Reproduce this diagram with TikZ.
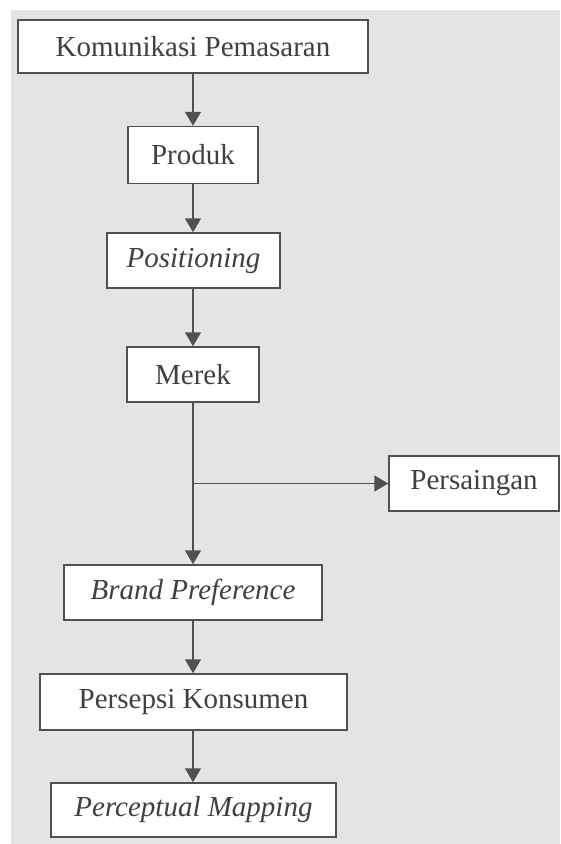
\documentclass[tikz,border=0pt]{standalone}
\usepackage{fontspec}
\setmainfont{Liberation Serif}
\usetikzlibrary{arrows.meta}
\definecolor{bggray}{HTML}{E4E4E4}
\definecolor{linegray}{HTML}{505050}
\definecolor{textgray}{HTML}{404040}
\tikzset{
  box/.style={draw=linegray, line width=1.5pt, fill=white, inner sep=0pt,
    text=textgray, font=\fontsize{29}{34}\selectfont},
  flow/.style={draw=linegray, line width=1.5pt, -{Triangle[width=16pt,length=14pt]}}
}
\begin{document}
\begin{tikzpicture}[x=1pt,y=-1pt]
\useasboundingbox (0,0) rectangle (560,844);
\fill[white] (0,0) rectangle (560,844);
\fill[bggray] (11,10) rectangle (560,844);
\node[box, minimum width=350pt, minimum height=53pt] (kom) at (193,46.5) {Komunikasi Pemasaran};
\node[box, minimum width=130pt, minimum height=57pt] (prod) at (193,155) {Produk};
\node[box, minimum width=173pt, minimum height=55pt] (pos) at (193.5,260.5) {\itshape Positioning};
\node[box, minimum width=132pt, minimum height=55pt] (merek) at (193,374.5) {Merek};
\node[box, minimum width=170pt, minimum height=55pt] (pers) at (474,483.5) {Persaingan};
\node[box, minimum width=258pt, minimum height=55pt] (brand) at (193,592.5) {\itshape Brand Preference};
\node[box, minimum width=307pt, minimum height=56pt] (persepsi) at (193.5,702) {Persepsi Konsumen};
\node[box, minimum width=285pt, minimum height=54pt] (percept) at (193.5,810) {\itshape Perceptual Mapping};
\coordinate (branch) at (193,483.5);
\draw[flow] (kom.south -| prod.north) -- (prod.north);
\draw[flow] (prod.south) -- (prod.south |- pos.north);
\draw[flow] (pos.south -| merek.north) -- (merek.north);
\draw[flow] (merek.south) -- (brand.north);
\draw[flow] (branch) -- (pers.west);
\draw[flow] (brand.south) -- (brand.south |- persepsi.north);
\draw[flow] (persepsi.south -| brand.south) -- (brand.south |- percept.north);
\end{tikzpicture}
\end{document}
